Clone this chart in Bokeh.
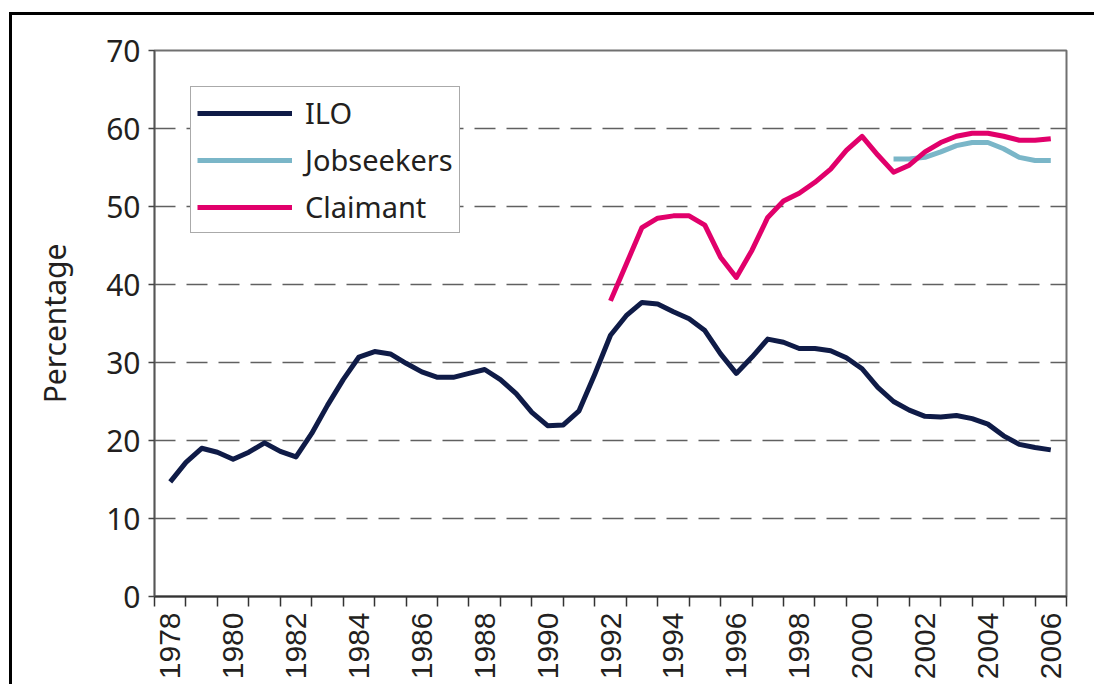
import math
from bokeh.plotting import figure
from bokeh.models import Range1d, FixedTicker, Legend, LegendItem
from bokeh.embed import file_html
from bokeh.resources import INLINE

# half-yearly periods 1978.0 ... 2006.0
periods = [1978.0 + 0.5 * i for i in range(57)]

ilo = [14.7, 17.2, 19.0, 18.5, 17.6, 18.5, 19.7, 18.6, 17.9, 20.9,
       24.5, 27.8, 30.7, 31.4, 31.1, 29.9, 28.8, 28.1, 28.1, 28.6,
       29.1, 27.8, 26.0, 23.6, 21.9, 22.0, 23.8, 28.5, 33.5, 36.0,
       37.7, 37.5, 36.5, 35.6, 34.1, 31.1, 28.6, 30.7, 33.0, 32.6,
       31.8, 31.8, 31.5, 30.6, 29.2, 26.8, 25.0, 23.9, 23.1, 23.0,
       23.2, 22.8, 22.1, 20.6, 19.5, 19.1, 18.8]

claimant_periods = periods[28:]
claimant = [37.9, 42.6, 47.3, 48.5, 48.8, 48.8, 47.6, 43.5, 40.9, 44.4,
            48.6, 50.7, 51.7, 53.1, 54.8, 57.2, 59.0, 56.6, 54.4, 55.3,
            57.0, 58.2, 59.0, 59.4, 59.4, 59.0, 58.5, 58.5, 58.7]

jobseekers_periods = periods[46:]
jobseekers = [56.1, 56.1, 56.3, 57.0, 57.8, 58.2, 58.2, 57.4, 56.3, 55.9, 55.9]

label_years = list(range(1978, 2007, 2))
year_labels = [str(y) for y in label_years]
category_edges = [1977.5 + i for i in range(30)]
y_ticks = [0, 10, 20, 30, 40, 50, 60, 70]
grid_ticks = [10, 20, 30, 40, 50, 60]

ILO_C = "#0f1b47"
JOB_C = "#7ab6c8"
CLA_C = "#e1006b"
TXT_C = "#231f20"

p = figure(width=1085, height=672, output_backend="svg", toolbar_location=None,
           x_range=Range1d(1977.5, 2006.5), y_range=Range1d(0, 70),
           min_border_left=142, min_border_right=31, min_border_top=35,
           min_border_bottom=91)
p.styles = {"border-left": "3px solid #000", "border-top": "3px solid #000",
            "margin-left": "9px", "margin-top": "12px"}

p.outline_line_color = "#707070"
p.outline_line_width = 2
p.background_fill_color = "white"
p.border_fill_color = "white"

p.xgrid.visible = False
p.ygrid.ticker = FixedTicker(ticks=grid_ticks)
p.ygrid.grid_line_color = "#606060"
p.ygrid.grid_line_width = 1.6
p.ygrid.grid_line_dash = "21 11"

# y axis
p.yaxis.ticker = FixedTicker(ticks=y_ticks)
p.yaxis.major_label_text_font = "Noto Sans"
p.yaxis.major_label_text_font_size = "30px"
p.yaxis.major_label_text_color = TXT_C
p.yaxis.major_tick_out = 6
p.yaxis.major_tick_in = 0
p.yaxis.minor_tick_out = 0
p.yaxis.minor_tick_in = 0
p.yaxis.major_tick_line_color = "#444"
p.yaxis.major_tick_line_width = 1.5
p.yaxis.axis_line_color = "#555"
p.yaxis.axis_line_width = 1.5
p.yaxis.major_label_standoff = 8
p.yaxis.axis_label = "Percentage"
p.yaxis.axis_label_text_font = "Noto Sans"
p.yaxis.axis_label_text_font_size = "30px"
p.yaxis.axis_label_text_font_style = "normal"
p.yaxis.axis_label_text_color = TXT_C
p.yaxis.axis_label_standoff = 28

# x axis
p.xaxis.ticker = FixedTicker(ticks=label_years, minor_ticks=category_edges)
p.xaxis.major_label_overrides = {y: lab for y, lab in zip(label_years, year_labels)}
p.xaxis.major_tick_in = 0
p.xaxis.major_tick_out = 0
p.xaxis.minor_tick_in = 0
p.xaxis.minor_tick_out = 10
p.xaxis.minor_tick_line_color = "#333"
p.xaxis.minor_tick_line_width = 1.5
p.xaxis.axis_line_color = "#333"
p.xaxis.axis_line_width = 2
p.xaxis.major_label_orientation = math.pi / 2
p.xaxis.major_label_standoff = 6
p.xaxis.major_label_text_font = "Liberation Sans"
p.xaxis.major_label_text_font_size = "30px"
p.xaxis.major_label_text_color = TXT_C

r_ilo = p.line(periods, ilo, line_width=5, color=ILO_C, line_join="round")
r_job = p.line(jobseekers_periods, jobseekers, line_width=5, color=JOB_C, line_join="round")
r_cla = p.line(claimant_periods, claimant, line_width=5, color=CLA_C, line_join="round")

legend = Legend(items=[LegendItem(label="ILO", renderers=[r_ilo]),
                       LegendItem(label="Jobseekers", renderers=[r_job]),
                       LegendItem(label="Claimant", renderers=[r_cla])],
                location=(36, 363))
legend.border_line_color = "#555"
legend.border_line_width = 1.5
legend.background_fill_color = "white"
legend.background_fill_alpha = 1
legend.padding = 6
legend.spacing = 8
legend.margin = 0
legend.label_height = 36
legend.glyph_height = 36
legend.glyph_width = 95
legend.label_standoff = 13
legend.label_text_font = "Noto Sans"
legend.label_text_font_size = "29px"
legend.label_text_color = TXT_C
p.add_layout(legend, "center")

open("out.html", "w").write(file_html(p, INLINE))
